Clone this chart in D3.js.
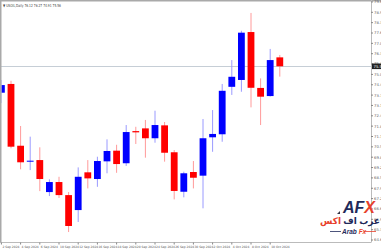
<!DOCTYPE html>
<html>
<head>
<meta charset="utf-8">
<script src="https://cdn.jsdelivr.net/npm/d3@7"></script>
<style>
  body { margin: 0; background: #fff; }
  svg { display: block; font-family: "DejaVu Sans", sans-serif; }
</style>
</head>
<body>
<div id="chart"></div>
<script>
// daily bars, 2 Sep - 11 Oct 2024
const dates = ["2 Sep 2024", "3 Sep 2024", "4 Sep 2024", "5 Sep 2024", "6 Sep 2024",
  "9 Sep 2024", "10 Sep 2024", "11 Sep 2024", "12 Sep 2024", "13 Sep 2024",
  "16 Sep 2024", "17 Sep 2024", "18 Sep 2024", "19 Sep 2024", "20 Sep 2024",
  "23 Sep 2024", "24 Sep 2024", "25 Sep 2024", "26 Sep 2024", "27 Sep 2024",
  "30 Sep 2024", "1 Oct 2024", "2 Oct 2024", "3 Oct 2024", "4 Oct 2024",
  "7 Oct 2024", "8 Oct 2024", "9 Oct 2024", "10 Oct 2024", "11 Oct 2024"];
const opens  = [73.90, 74.45, 70.57, 69.57, 69.67, 67.66, 68.29, 67.47, 66.53, 68.90,
  68.48, 69.59, 70.26, 69.47, 71.49, 71.66, 71.04, 71.85, 70.16, 67.68,
  68.92, 68.69, 71.10, 71.29, 74.27, 74.70, 77.71, 74.20, 73.69, 76.12];
const highs  = [74.70, 74.65, 71.81, 71.14, 70.47, 68.46, 68.62, 67.66, 69.21, 69.67,
  69.88, 70.97, 70.63, 71.87, 71.76, 72.19, 72.77, 72.06, 70.30, 68.94,
  69.61, 72.25, 72.81, 74.45, 75.95, 77.79, 78.91, 74.80, 76.65, 76.27];
const lows   = [73.25, 70.41, 69.09, 69.04, 67.72, 67.41, 67.29, 65.15, 65.78, 67.89,
  67.99, 68.84, 68.87, 69.30, 70.68, 69.82, 70.76, 69.57, 67.20, 67.33,
  67.89, 66.64, 70.19, 70.82, 73.76, 73.96, 72.98, 71.87, 73.66, 74.91];
const closes = [74.38, 70.51, 69.53, 69.63, 68.48, 68.29, 67.47, 65.53, 68.62, 68.52,
  69.61, 70.24, 69.42, 71.43, 71.41, 71.04, 71.87, 70.13, 67.73, 68.84,
  68.56, 71.04, 71.31, 74.02, 74.90, 77.67, 74.21, 73.65, 75.95, 75.56];

const priceTicks = [79.60, 78.95, 78.30, 77.65, 77.00, 76.35, 75.70, 75.05, 74.40, 73.75,
  73.10, 72.45, 71.80, 71.15, 70.50, 69.85, 69.20, 68.55, 67.90, 67.25,
  66.60, 65.95, 65.30, 64.65];
const dateTicks = ["2 Sep 2024", "4 Sep 2024", "6 Sep 2024", "10 Sep 2024", "12 Sep 2024",
  "16 Sep 2024", "18 Sep 2024", "20 Sep 2024", "24 Sep 2024", "26 Sep 2024",
  "30 Sep 2024", "2 Oct 2024", "4 Oct 2024", "8 Oct 2024", "10 Oct 2024"];
const symbol = "USOIL,Daily";

const width = 381;
const height = 250;
const axisX = 371;      // price scale line
const axisY = 242.5;    // time scale line

const bars = dates.map((d, i) => ({
  date: d, i: i, open: opens[i], high: highs[i], low: lows[i], close: closes[i]
}));
const last = bars[bars.length - 1];

const svg = d3.select("#chart")
  .append("svg")
  .attr("width", width)
  .attr("height", height);

const x = d3.scaleLinear()
  .domain([0, dates.length - 1])
  .range([1.4, 279.8]);

const y = d3.scaleLinear()
  .domain([64.65, 79.60])
  .range([240, 1.95]);

svg.append("rect").attr("width", width).attr("height", height).attr("fill", "#fff");

const plot = svg.append("g");
plot.append("clipPath").attr("id", "clip")
  .append("rect").attr("x", 1.5).attr("y", 1.5).attr("width", axisX - 1.5).attr("height", axisY - 1.5);

// current price line
plot.append("line")
  .attr("x1", 0).attr("x2", axisX)
  .attr("y1", Math.round(y(last.close)) + 0.5).attr("y2", Math.round(y(last.close)) + 0.5)
  .attr("stroke", "#c6ced6").attr("stroke-width", 1);

const candles = plot.append("g").attr("clip-path", "url(#clip)");

candles.selectAll("line.wick")
  .data(bars)
  .enter()
  .append("line")
  .attr("class", "wick")
  .attr("x1", d => x(d.i)).attr("x2", d => x(d.i))
  .attr("y1", d => y(d.high)).attr("y2", d => y(d.low))
  .attr("stroke", d => d.close >= d.open ? "#9a9aff" : "#ff9a9a")
  .attr("stroke-width", 1);

candles.selectAll("rect.body")
  .data(bars)
  .enter()
  .append("rect")
  .attr("class", "body")
  .attr("x", d => x(d.i) - 3.4)
  .attr("width", 6.8)
  .attr("y", d => y(Math.max(d.open, d.close)))
  .attr("height", d => Math.max(1, Math.abs(y(d.open) - y(d.close))))
  .attr("fill", d => d.close >= d.open ? "#0000ff" : "#ff0000");

// grey window edges
svg.append("rect").attr("width", width).attr("height", 1.5).attr("fill", "#a9a9a9");
svg.append("rect").attr("width", 1.5).attr("height", axisY).attr("fill", "#a9a9a9");

// price axis
svg.append("line")
  .attr("x1", axisX + 0.5).attr("x2", axisX + 0.5).attr("y1", 0).attr("y2", axisY)
  .attr("stroke", "#bbbbbb");
const yAxis = svg.append("g");
yAxis.selectAll("line")
  .data(priceTicks)
  .enter()
  .append("line")
  .attr("x1", axisX).attr("x2", axisX + 2)
  .attr("y1", d => y(d)).attr("y2", d => y(d))
  .attr("stroke", "#888");
yAxis.selectAll("text")
  .data(priceTicks)
  .enter()
  .append("text")
  .attr("x", axisX + 3)
  .attr("y", d => y(d) + 1.4)
  .attr("font-size", 3.8)
  .attr("fill", "#666")
  .text(d => d.toFixed(2));

// current price label
svg.append("rect")
  .attr("x", axisX + 1).attr("y", y(last.close) - 2.8)
  .attr("width", width - axisX - 1).attr("height", 5.6)
  .attr("fill", "#222");
svg.append("text")
  .attr("x", axisX + 2.5).attr("y", y(last.close) + 1.4)
  .attr("font-size", 3.8).attr("fill", "#fff")
  .text(last.close.toFixed(2));

// time axis
svg.append("line")
  .attr("x1", 0).attr("x2", axisX).attr("y1", axisY).attr("y2", axisY)
  .attr("stroke", "#bbbbbb");
const xAxis = svg.append("g");
const shown = bars.filter(d => dateTicks.includes(d.date));
xAxis.selectAll("line")
  .data(shown)
  .enter()
  .append("line")
  .attr("x1", d => x(d.i)).attr("x2", d => x(d.i))
  .attr("y1", axisY).attr("y2", axisY + 2)
  .attr("stroke", "#888");
xAxis.selectAll("text")
  .data(shown)
  .enter()
  .append("text")
  .attr("x", d => x(d.i) + 1)
  .attr("y", axisY + 5.5)
  .attr("font-size", 3)
  .attr("fill", "#555")
  .text(d => d.date);

// title
svg.append("text")
  .attr("x", 3).attr("y", 6.5)
  .attr("font-size", 4).attr("fill", "#444")
  .attr("textLength", 58).attr("lengthAdjust", "spacingAndGlyphs")
  .text("\u25BC " + symbol + " " + [last.open, last.high, last.low, last.close].map(v => v.toFixed(2)).join(" "));

// small marker
svg.append("path").attr("d", "M337,214 L340,214 L340,211 Z").attr("fill", "#334");

// logo
const logo = svg.append("g").attr("font-family", "'Liberation Sans', sans-serif");
const afx = logo.append("text").attr("x", 343).attr("y", 213)
  .attr("font-size", 16).attr("font-weight", "bold").attr("font-style", "italic");
afx.append("tspan").attr("fill", "#1f2a5a").text("AF");
afx.append("tspan").attr("fill", "#e8412c").text("X");

// arabic line as one text, right edge pinned by its measured box
const arG = logo.append("g");
const ar = arG.append("text").attr("x", 0).attr("y", 224)
  .attr("font-family", "'Noto Sans', 'DejaVu Sans', sans-serif")
  .attr("font-size", 9).attr("font-weight", "bold");
ar.append("tspan").attr("fill", "#1f2a5a").text("عرب اف ");
ar.append("tspan").attr("fill", "#e8412c").text("اكس");
const arBox = ar.node().getBBox();
arG.attr("transform", "translate(" + (380 - (arBox.x + arBox.width)) + ",0)");

logo.append("line").attr("x1", 330).attr("x2", 341).attr("y1", 231.5).attr("y2", 231.5)
  .attr("stroke", "#1f2a5a").attr("stroke-width", 0.8);
logo.append("line").attr("x1", 364).attr("x2", 376).attr("y1", 231.5).attr("y2", 231.5)
  .attr("stroke", "#e8412c").attr("stroke-width", 0.8);
const en = logo.append("text").attr("x", 342).attr("y", 234)
  .attr("font-size", 6.5).attr("font-weight", "bold").attr("font-style", "italic");
en.append("tspan").attr("fill", "#1f2a5a").text("Arab ");
en.append("tspan").attr("fill", "#e8412c").text("Fx");
</script>
</body>
</html>
